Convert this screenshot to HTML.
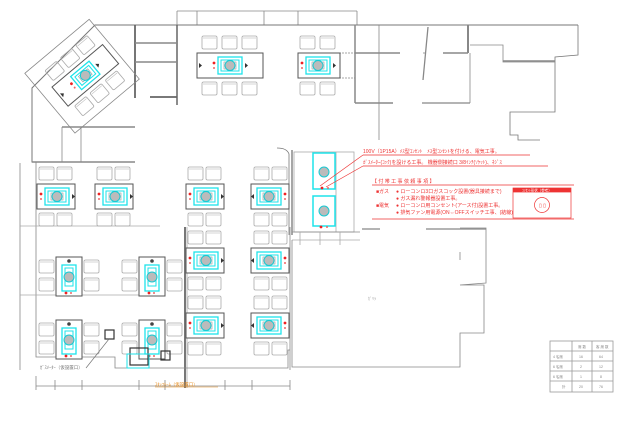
<!DOCTYPE html>
<html><head><meta charset="utf-8"><style>
html,body{margin:0;padding:0;background:#fff;}
svg{display:block;}
text{font-family:"Liberation Sans","Noto Sans CJK JP",sans-serif;}
</style></head><body>
<svg width="626" height="447" viewBox="0 0 626 447" xmlns="http://www.w3.org/2000/svg">
<defs>
<g id="ch"><rect x="0" y="0" width="15" height="13" rx="1.5" fill="none" stroke="#aaa" stroke-width="0.8"/><line x1="1" y1="2" x2="14" y2="2" stroke="#bbb" stroke-width="0.6"/></g>
<g id="cyanH">
<rect x="8" y="4" width="24" height="17" fill="none" stroke="#1ee3ea" stroke-width="1.3"/>
<rect x="11" y="7" width="18" height="11" fill="none" stroke="#1ee3ea" stroke-width="1"/>
<rect x="14" y="9" width="12" height="7" fill="none" stroke="#999" stroke-width="0.6"/>
<circle cx="20" cy="12.5" r="5" fill="#bbb" stroke="#19c9d2" stroke-width="1"/>
<circle cx="4" cy="10" r="1.4" fill="#e22"/><circle cx="4" cy="15" r="1" fill="#e66"/>
<path d="M35 10 l3 2.5 l-3 2.5z" fill="#333"/>
</g>
<g id="tH2">
<use href="#ch" x="2" y="-17"/><use href="#ch" x="20" y="-17"/>
<use href="#ch" x="2" y="29"/><use href="#ch" x="20" y="29"/>
<rect x="0" y="0" width="38" height="25" fill="#fff" stroke="#555" stroke-width="1"/>
<use href="#cyanH"/>
</g>
<g id="tH2m"><g transform="translate(38,0) scale(-1,1)"><use href="#tH2"/></g></g>
<g id="tH3">
<use href="#ch" x="5" y="-17"/><use href="#ch" x="25" y="-17"/><use href="#ch" x="45" y="-17"/>
<use href="#ch" x="5" y="29"/><use href="#ch" x="25" y="29"/><use href="#ch" x="45" y="29"/>
<rect x="0" y="0" width="66" height="25" fill="#fff" stroke="#555" stroke-width="1"/>
<g transform="translate(13,0)"><use href="#cyanH"/></g>
<path d="M2 10 l3 2.5 l-3 2.5z" fill="#333"/>
</g>
<g id="tV">
<use href="#ch" x="-17" y="3"/><use href="#ch" x="-17" y="21"/>
<use href="#ch" x="28" y="3"/><use href="#ch" x="28" y="21"/>
<rect x="0" y="0" width="26" height="39" fill="#fff" stroke="#555" stroke-width="1"/>
<rect x="6" y="8" width="14" height="26" fill="none" stroke="#1ee3ea" stroke-width="1.3"/>
<rect x="9" y="11" width="8" height="18" fill="none" stroke="#1ee3ea" stroke-width="1"/>
<circle cx="13" cy="20" r="5" fill="#bbb" stroke="#19c9d2" stroke-width="1"/>
<circle cx="13" cy="4" r="1.8" fill="#444"/>
<circle cx="10" cy="36" r="1.4" fill="#e22"/><circle cx="15" cy="36" r="1" fill="#e66"/>
</g>
</defs>

<g fill="none" stroke="#888" stroke-width="0.8">
<!-- dimension lines top -->
<line x1="177" y1="11" x2="357" y2="11"/>
<line x1="177" y1="11" x2="177" y2="25"/><line x1="197" y1="11" x2="197" y2="25"/><line x1="264" y1="11" x2="264" y2="25"/><line x1="298" y1="11" x2="298" y2="25"/><line x1="357" y1="11" x2="357" y2="25"/>
<!-- outer wall -->
<polyline points="578,25 95,25 32,88 32,162 135,162" stroke="#777" stroke-width="1"/>
<polyline points="578,25 578,55 555,57 555,112 510,112 510,135 518,135 518,140 540,140" stroke="#777"/>
<line x1="135" y1="25" x2="135" y2="98" stroke="#666" stroke-width="1.8"/>
<line x1="177" y1="25" x2="177" y2="105" stroke="#666" stroke-width="1.5"/>
<line x1="135" y1="43" x2="177" y2="43" stroke-width="1.5"/>
<line x1="135" y1="62" x2="177" y2="62" stroke-width="1.5"/>
<line x1="150" y1="97" x2="177" y2="97" stroke="#666" stroke-width="1.8"/>
<polyline points="135,162 62,127 " stroke="none"/>
<line x1="62" y1="127" x2="135" y2="127" stroke-width="1.5"/>
<line x1="62" y1="127" x2="62" y2="162"/><line x1="81" y1="127" x2="81" y2="162"/>
<line x1="32" y1="162" x2="135" y2="162" stroke-width="1.5"/>
<line x1="20" y1="163" x2="20" y2="370"/>
<!-- upper right rooms -->
<line x1="300" y1="53" x2="400" y2="53" stroke-dasharray="2,1"/>
<line x1="355" y1="25" x2="355" y2="103" stroke-width="1.5"/>
<line x1="355" y1="53" x2="400" y2="53" stroke-width="1.5"/>
<line x1="355" y1="103" x2="393" y2="103" stroke-width="1.5"/>
<line x1="379" y1="25" x2="379" y2="140"/>
<line x1="428" y1="27" x2="423" y2="80" stroke-width="1.3"/>
<line x1="423" y1="53" x2="425" y2="53"/>
<line x1="443" y1="53" x2="468" y2="53" stroke-width="1.5"/>
<line x1="468" y1="25" x2="468" y2="53" stroke-width="2"/>
<line x1="470" y1="53" x2="470" y2="103"/>
<line x1="422" y1="103" x2="470" y2="103" stroke-width="1.3"/>
<polyline points="470,45 503,45 503,62 555,62" />
<line x1="503" y1="61" x2="555" y2="61" stroke-width="1.5"/>
<line x1="300" y1="78" x2="355" y2="78" stroke-dasharray="2,1"/>
<!-- center partition -->
<path d="M277 148 q10 0 12 6 L289 235" stroke="#777"/>
<line x1="292" y1="150" x2="292" y2="235" stroke-width="1.5"/>
<rect x="294" y="152" width="60" height="80" stroke="#aaa"/>
<line x1="336" y1="152" x2="336" y2="232" stroke="#aaa"/>
<line x1="292" y1="232" x2="360" y2="232"/>
<line x1="292" y1="240" x2="360" y2="240" stroke="#aaa"/>
<line x1="300" y1="232" x2="300" y2="245" stroke="#aaa"/>
<line x1="320" y1="232" x2="320" y2="245" stroke="#aaa"/>
<line x1="340" y1="232" x2="340" y2="245" stroke="#aaa"/>
<!-- big right room -->
<polyline points="292,240 292,367 460,367 460,333 484,333 484,285 460,285 486,283 486,228 460,228" stroke="#888"/>
<line x1="426" y1="229" x2="486" y2="229" stroke-width="1.3"/>
<line x1="362" y1="229" x2="380" y2="229" stroke-width="1.3"/>
<line x1="460" y1="252" x2="460" y2="260"/>
<!-- vertical divider thick -->
<line x1="185" y1="227" x2="185" y2="388" stroke="#777" stroke-width="2"/>
<line x1="187" y1="227" x2="187" y2="388" stroke="#aaa"/>
<!-- bottom walls -->
<line x1="36" y1="386" x2="290" y2="386"/>
<line x1="36" y1="376" x2="36" y2="390"/>
<line x1="55" y1="380" x2="55" y2="390"/><line x1="82" y1="380" x2="82" y2="390"/><line x1="139" y1="380" x2="139" y2="390"/><line x1="165" y1="380" x2="165" y2="390"/><line x1="225" y1="380" x2="225" y2="390"/><line x1="252" y1="380" x2="252" y2="390"/><line x1="290" y1="380" x2="290" y2="390"/>
<polyline points="36,162 36,357 115,357 115,368 288,368 288,350 290,350" />
<line x1="20" y1="226" x2="160" y2="226" stroke="#aaa"/>
<line x1="20" y1="295" x2="160" y2="295" stroke="#aaa"/>
<line x1="290" y1="227" x2="290" y2="370"/>
</g>

<!-- rotated table -->
<g transform="translate(85,75) rotate(-40)">
<rect x="-45" y="-40" width="84" height="78" fill="none" stroke="#888" stroke-width="0.8"/>
<use href="#tH3" x="-33" y="-12"/>
</g>

<!-- top tables -->
<use href="#tH3" x="197" y="53"/>
<g transform="translate(298,53)"><rect x="0" y="0" width="42" height="25" fill="#fff" stroke="#555"/><use href="#ch" x="2" y="-17"/><use href="#ch" x="22" y="-17"/><use href="#ch" x="2" y="29"/><use href="#ch" x="22" y="29"/><use href="#cyanH"/></g>

<!-- row 1 -->
<use href="#tH2" x="37" y="184"/>
<use href="#tH2" x="95" y="184"/>
<use href="#tH2" x="186" y="184"/>
<use href="#tH2m" x="251" y="184"/>
<!-- right column -->
<use href="#tH2" x="186" y="248"/>
<use href="#tH2m" x="251" y="248"/>
<use href="#tH2" x="186" y="313"/>
<use href="#tH2m" x="251" y="313"/>
<!-- vertical tables -->
<use href="#tV" x="56" y="257"/>
<use href="#tV" x="139" y="257"/>
<use href="#tV" x="56" y="320"/>
<use href="#tV" x="139" y="320"/>

<!-- center cyan column -->
<g>
<rect x="313" y="153" width="22" height="36" fill="none" stroke="#1ee3ea" stroke-width="1.5"/>
<circle cx="324" cy="172" r="5" fill="#bbb" stroke="#19c9d2"/>
<rect x="313" y="196" width="22" height="30" fill="none" stroke="#1ee3ea" stroke-width="1.5"/>
<circle cx="324" cy="211" r="5" fill="#bbb" stroke="#19c9d2"/>
<circle cx="322" cy="188" r="1.4" fill="#e22"/><circle cx="328" cy="188" r="1" fill="#e66"/>
<circle cx="321" cy="227" r="1.4" fill="#e22"/><circle cx="327" cy="227" r="1" fill="#e66"/>
</g>

<!-- squares -->
<rect x="105" y="330" width="9" height="9" fill="none" stroke="#333" stroke-width="1.2"/>
<rect x="130" y="348" width="18" height="17" fill="none" stroke="#333" stroke-width="1.2"/>
<rect x="127" y="354" width="22" height="14" fill="none" stroke="#1ee3ea" stroke-width="1"/>
<rect x="161" y="351" width="9" height="9" fill="none" stroke="#333" stroke-width="1.2"/>
<line x1="109" y1="339" x2="86" y2="368" stroke="#777" stroke-width="0.7"/>
<text x="40" y="369" font-size="4.5" fill="#777">ｶﾞｽﾒｰﾀｰ（仮設置口）</text>
<text x="155" y="386" font-size="4.5" fill="#e68a1a">ｽﾀｯﾌﾙｰﾑ（仮設置口）</text>
<line x1="155" y1="387" x2="218" y2="387" stroke="#e68a1a" stroke-width="0.5"/>
<text x="368" y="300" font-size="4" fill="#999">ｶﾞﾘﾗ</text>

<!-- red annotation -->
<g stroke="#e33" stroke-width="0.7" fill="none">
<line x1="363" y1="155" x2="320" y2="186"/>
<line x1="363" y1="166" x2="326" y2="187"/>
<line x1="363" y1="155" x2="530" y2="155"/>
<line x1="363" y1="166" x2="548" y2="166"/>
<line x1="372" y1="185" x2="574" y2="185"/>
<line x1="372" y1="219" x2="574" y2="219"/>
<rect x="513" y="188" width="58" height="30"/>
<line x1="513" y1="192" x2="571" y2="192"/>
<circle cx="542" cy="205" r="7.5"/>
</g>
<rect x="513" y="188" width="58" height="4" fill="#e33"/>
<text x="522" y="191.5" font-size="3.5" fill="#fff">ｺﾝｾﾝﾄ形状（参考）</text>
<text x="539" y="207" font-size="5" fill="#e33">▯ ▯</text>
<g font-size="5" fill="#e33">
<text x="363" y="153">100V（1P15A）ﾒｽ型ｺﾝｾﾝﾄ　ﾒｽ型ｺﾝｾﾝﾄを付ける、電気工事。</text>
<text x="363" y="164">ｶﾞｽﾒｰﾀｰ(ｺｯｸ)を設ける工事。 機器側接続口 3/8ｲﾝﾁ(ｿｹｯﾄ)、ﾈｼﾞｽ</text>
<text x="372" y="183">【 付 帯 工 事 依 頼 事 項 】</text>
<text x="376" y="193">■ガス</text>
<text x="396" y="193">● ローコンロ3口ガスコック設置(器具接続まで)</text>
<text x="396" y="200">● ガス漏れ警報器設置工事。</text>
<text x="376" y="207">■電気</text>
<text x="396" y="207">● ローコンロ用コンセント(アース付)設置工事。</text>
<text x="396" y="214">● 排気ファン用電源(ON⇔OFFスイッチ工事、(結線)</text>
</g>

<!-- legend table -->
<g stroke="#999" stroke-width="0.8" fill="none">
<rect x="550" y="341" width="63" height="51"/>
<line x1="572" y1="341" x2="572" y2="392"/><line x1="592" y1="341" x2="592" y2="392"/>
<line x1="550" y1="351" x2="613" y2="351"/><line x1="550" y1="361" x2="613" y2="361"/><line x1="550" y1="371" x2="613" y2="371"/><line x1="550" y1="381" x2="613" y2="381"/>
</g>
<g font-size="3.5" fill="#888">
<text x="578" y="348">席 数</text><text x="596" y="348">客 席 数</text>
<text x="553" y="358">4 名席</text><text x="579" y="358">16</text><text x="599" y="358">64</text>
<text x="553" y="368">6 名席</text><text x="580" y="368">2</text><text x="599" y="368">12</text>
<text x="553" y="378">6 名席</text><text x="580" y="378">1</text><text x="600" y="378">8</text>
<text x="562" y="388">計</text><text x="579" y="388">20</text><text x="599" y="388">76</text>
</g>
</svg>
</body></html>
